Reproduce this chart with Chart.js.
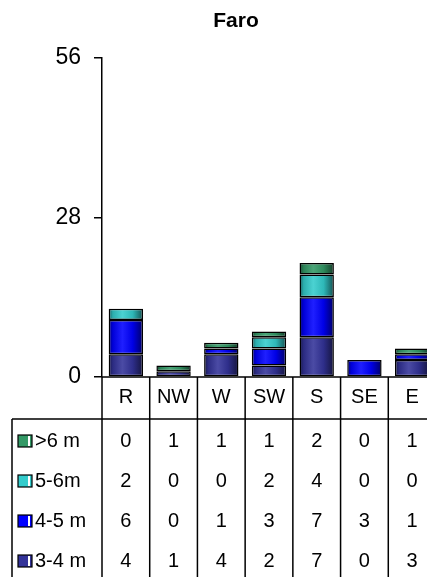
<!DOCTYPE html>
<html>
<head>
<meta charset="utf-8">
<title>Faro</title>
<script src="https://cdn.jsdelivr.net/npm/chart.js@4/dist/chart.umd.min.js"></script>
<style>
  html, body { margin: 0; padding: 0; background: #fff; overflow: hidden; }
  #wrap { position: absolute; left: 0; top: 0; width: 440px; height: 577px; }
</style>
</head>
<body>
<div id="wrap"><canvas id="c" width="440" height="577"></canvas></div>
<script>
// Wave-height occurrences per direction sector
const categories = ['R', 'NW', 'W', 'SW', 'S', 'SE', 'E'];
const seriesLabels = ['3-4 m', '4-5 m', '5-6m', '>6 m'];
const h34 = [4, 1, 4, 2, 7, 0, 3];
const h45 = [6, 0, 1, 3, 7, 3, 1];
const h56 = [2, 0, 0, 2, 4, 0, 0];
const h6  = [0, 1, 1, 1, 2, 0, 1];
const yTicks = [0, 28, 56];
const chartTitle = 'Faro';

const seriesValues = [h34, h45, h56, h6];
const seriesColors = ['#333399', '#0000FF', '#33CCCC', '#339966'];
const FONT = '"Liberation Sans", Arial, sans-serif';
const BAR_FRACTION = 0.72;

function shade(hex, f) {
  const n = parseInt(hex.slice(1), 16);
  let r = (n >> 16) & 255, g = (n >> 8) & 255, b = n & 255;
  const mix = c => f < 0 ? Math.round(c * (1 + f)) : Math.round(c + (255 - c) * f);
  return `rgb(${mix(r)},${mix(g)},${mix(b)})`;
}

// Cylinder-like horizontal shading across each bar
function barFill(color) {
  return ctx => {
    const chart = ctx.chart;
    const area = chart.chartArea;
    if (!area || ctx.type !== 'data' || !chart.scales.x) return color;
    const cx = chart.scales.x.getPixelForValue(ctx.dataIndex);
    const w = (area.right - area.left) / categories.length * BAR_FRACTION;
    const g = chart.ctx.createLinearGradient(cx - w / 2, 0, cx + w / 2, 0);
    g.addColorStop(0, shade(color, -0.55));
    g.addColorStop(0.12, shade(color, -0.15));
    g.addColorStop(0.4, shade(color, 0.12));
    g.addColorStop(0.7, shade(color, -0.1));
    g.addColorStop(1, shade(color, -0.6));
    return g;
  };
}

const tablePlugin = {
  id: 'dataTable',
  afterDraw(chart) {
    const c = chart.ctx;
    const area = chart.chartArea;
    const xs = chart.scales.x;
    const W = chart.width, H = chart.height;
    const catW = (area.right - area.left) / categories.length;
    const base = area.bottom;
    const headBottom = base + 42;
    const rowCenters = [441, 481, 521, 561];

    c.save();
    // title
    c.fillStyle = '#000';
    c.font = 'bold 21px ' + FONT;
    c.textAlign = 'center';
    c.textBaseline = 'middle';
    c.fillText(chartTitle, 236, 21);

    // table grid lines
    c.strokeStyle = '#000';
    c.lineWidth = 1.5;
    c.beginPath();
    c.moveTo(area.left, base); c.lineTo(W, base);
    c.moveTo(12, headBottom); c.lineTo(W, headBottom);
    c.moveTo(12, headBottom); c.lineTo(12, H);
    for (let i = 0; i <= categories.length; i++) {
      const x = area.left + i * catW;
      c.moveTo(x, base); c.lineTo(x, H);
    }
    c.stroke();

    // header labels
    c.font = '20px ' + FONT;
    c.textAlign = 'center';
    categories.forEach((cat, i) => {
      c.fillText(cat, xs.getPixelForValue(i), base + 20);
    });

    // rows, top to bottom: highest class first
    for (let r = 0; r < seriesLabels.length; r++) {
      const s = seriesLabels.length - 1 - r;
      const y = rowCenters[r];
      // legend key
      const sx = 18, sy = y - 6, sw = 14, sh = 12;
      c.fillStyle = seriesColors[s];
      c.fillRect(sx, sy, sw, sh);
      c.fillStyle = '#fff';
      c.fillRect(sx + sw - 4, sy + 1, 2, sh - 2);
      c.strokeStyle = '#000';
      c.lineWidth = 1.2;
      c.strokeRect(sx, sy, sw, sh);
      // label
      c.fillStyle = '#000';
      c.textAlign = 'left';
      c.fillText(seriesLabels[s], 35, y);
      // values
      c.textAlign = 'center';
      seriesValues[s].forEach((v, i) => {
        c.fillText(String(v), xs.getPixelForValue(i), y);
      });
    }
    c.restore();
  }
};

new Chart(document.getElementById('c'), {
  type: 'bar',
  data: {
    labels: categories,
    datasets: seriesValues.map((vals, s) => ({
      label: seriesLabels[s],
      data: vals,
      backgroundColor: barFill(seriesColors[s]),
      borderColor: '#000',
      borderWidth: 1.5,
      borderSkipped: false,
      categoryPercentage: 1,
      barPercentage: BAR_FRACTION
    }))
  },
  options: {
    responsive: false,
    animation: false,
    devicePixelRatio: 1,
    layout: { padding: { left: 0, right: 4, top: 58, bottom: 200 } },
    plugins: {
      legend: { display: false },
      title: { display: false },
      tooltip: { enabled: false }
    },
    scales: {
      x: { stacked: true, display: false },
      y: {
        stacked: true,
        min: 0,
        max: 56,
        afterBuildTicks: scale => { scale.ticks = yTicks.map(v => ({ value: v })); },
        afterFit: scale => { scale.width = 102; },
        border: { display: true, color: '#000', width: 1.5 },
        grid: { drawOnChartArea: false, drawTicks: true, tickLength: 8, color: '#000', lineWidth: 1.5 },
        ticks: { color: '#000', font: { family: FONT, size: 23 }, padding: 13 }
      }
    }
  },
  plugins: [tablePlugin]
});
</script>
</body>
</html>
